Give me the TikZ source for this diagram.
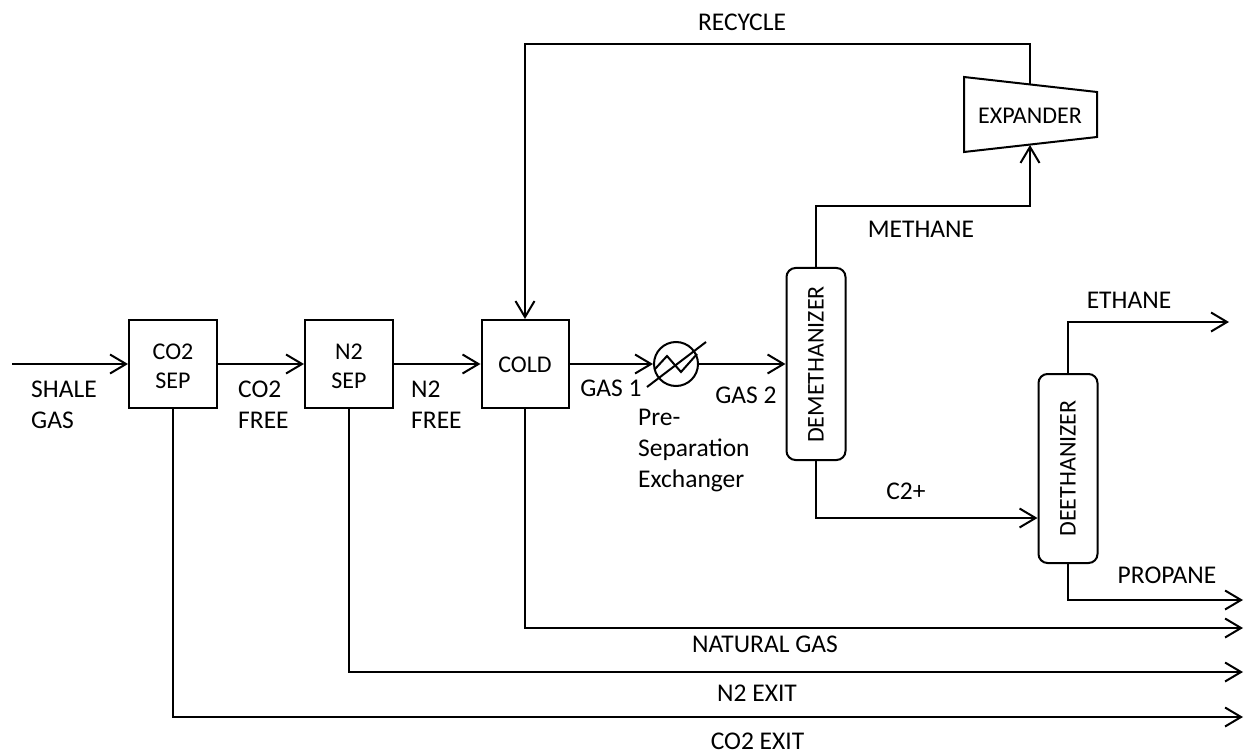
\documentclass[tikz,border=0pt]{standalone}
\usepackage{fontspec}
\setmainfont{Carlito}
\usetikzlibrary{arrows.meta}
\tikzset{
 x=1pt,y=-1pt,
 box/.style={draw,line width=2pt,inner sep=0pt},
 col/.style={draw,line width=2pt,rounded corners=9pt,inner sep=0pt},
 thin line/.style={line width=2pt},
 flow/.style={line width=2pt,-{Straight Barb[length=16pt,width=19pt,line width=2pt]}},
 lbl/.style={font=\fontsize{25.5}{31}\selectfont,align=center,inner sep=0pt},
 llbl/.style={font=\fontsize{25.5}{31}\selectfont,align=left,inner sep=0pt,anchor=west},
 ulbl/.style={font=\fontsize{24}{29}\selectfont,align=center,inner sep=0pt},
 vlbl/.style={font=\fontsize{24}{28}\selectfont,rotate=90,inner sep=0pt},
}
\begin{document}
\begin{tikzpicture}
\useasboundingbox (0,0) rectangle (1248,754);
\node[box,minimum width=88pt,minimum height=88pt] (co2) at (173,364) {};
\node[box,minimum width=88pt,minimum height=88pt] (n2) at (349,364) {};
\node[box,minimum width=87pt,minimum height=88pt] (cold) at (525,364) {};
\node[ulbl] (co2t) at (173,366.5) {CO2\\SEP};
\node[ulbl] (n2t) at (349,366.5) {N2\\SEP};
\node[ulbl] (coldt) at (525,365) {COLD};
\node[draw,circle,line width=2pt,minimum size=44pt,inner sep=0pt] (hx) at (676,364) {};
\node[col,minimum width=59pt,minimum height=192pt] (dem) at (816,364) {};
\node[vlbl] (demt) at (816,364.5) {DEMETHANIZER};
\node[col,minimum width=59pt,minimum height=189pt] (dee) at (1068,468.5) {};
\node[vlbl] (deet) at (1068,468.5) {DEETHANIZER};
\coordinate (e1) at (964,77);
\coordinate (e2) at (1097,92);
\coordinate (e3) at (1097,137);
\coordinate (e4) at (964,152);
\draw[thin line] (e1)--(e2)--(e3)--(e4)--cycle;
\node[ulbl] (exp) at (1030,116) {EXPANDER};
\coordinate (s) at (12,364);
\coordinate (ex1) at (1243,717);
\coordinate (ex2) at (1243,672);
\coordinate (ex3) at (1243,628);
\coordinate (ex4) at (1243,600);
\coordinate (ex5) at (1229,322);
\draw[flow] (s)--(co2.west|-s);
\draw[flow] (co2.east)--(n2.west);
\draw[flow] (n2.east)--(cold.west);
\draw[flow] (cold.east)--(hx.west);
\draw[flow] (hx.east)--(dem.west);
\draw[flow] (dem.north)--(816,206)--(1030,206)--(1030,145);
\draw[flow] (1030,85)--(1030,44)--(525,44)--(cold.north);
\draw[flow] (dem.south)--(816,518)--(dee.west|-0,518);
\draw[flow] (dee.north)--(1068,322)--(ex5);
\draw[flow] (dee.south)--(1068,600)--(ex4);
\draw[flow] (cold.south)--(525,628)--(ex3);
\draw[flow] (n2.south)--(349,672)--(ex2);
\draw[flow] (co2.south)--(173,717)--(ex1);
\draw[thin line] (647,387)--(706,342);
\draw[thin line] (655,369)--(667,356)--(681,372)--(697,354);
\node[llbl] (a) at (31,404.5) {SHALE\\GAS};
\node[llbl] (b) at (238,405) {CO2\\FREE};
\node[llbl] (c) at (411,404.5) {N2\\FREE};
\node[lbl] (d) at (611,388) {GAS 1};
\node[llbl] (e) at (638,451) {Pre-\\Separation\\Exchanger};
\node[lbl] (f) at (746,395) {GAS 2};
\node[lbl] (g) at (742,22) {RECYCLE};
\node[lbl] (h) at (921,229) {METHANE};
\node[lbl] (i) at (906,491) {C2+};
\node[lbl] (j) at (1129,300) {ETHANE};
\node[lbl] (k) at (1167,575) {PROPANE};
\node[lbl] (l) at (765,644) {NATURAL GAS};
\node[lbl] (m) at (757,693) {N2 EXIT};
\node[lbl] (n) at (757.5,741) {CO2 EXIT};
\end{tikzpicture}
\end{document}
